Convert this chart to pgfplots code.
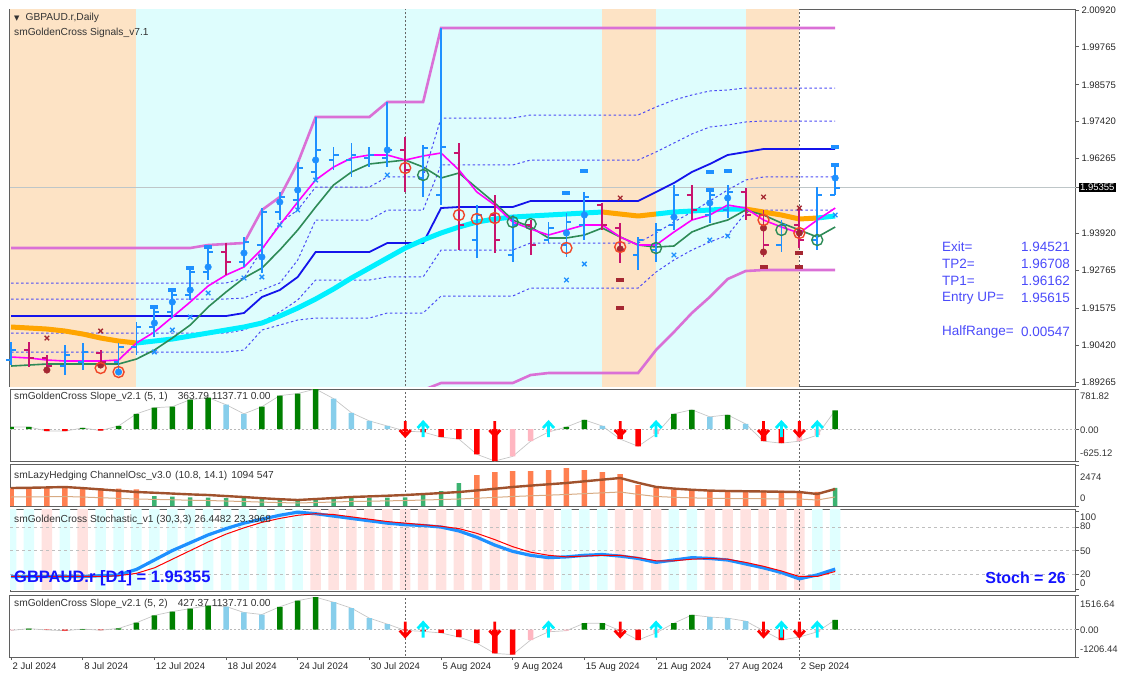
\documentclass[border=0pt]{standalone}
\usepackage{pgfplots}
\pgfplotsset{compat=1.18}
\usepackage{pgfplotstable}
\usepackage{fontspec}
\setmainfont{Liberation Sans}
\newfontfamily\dejavu{DejaVu Sans}

\definecolor{upc}{RGB}{30,144,255}
\definecolor{dnc}{RGB}{200,20,110}
\definecolor{peach}{RGB}{253,227,197}
\definecolor{lcyan}{RGB}{222,253,253}
\definecolor{magc}{RGB}{255,0,255}
\definecolor{grnc}{RGB}{46,139,87}
\definecolor{aquac}{RGB}{0,240,255}
\definecolor{orc}{RGB}{255,165,0}
\definecolor{chanc}{RGB}{20,20,235}
\definecolor{dotc}{RGB}{75,75,245}
\definecolor{orchidc}{RGB}{218,112,214}
\definecolor{circr}{RGB}{240,70,40}
\definecolor{darkr}{RGB}{165,40,50}
\definecolor{txtb}{RGB}{75,75,250}
\definecolor{sgreen}{RGB}{0,128,0}
\definecolor{sblue}{RGB}{135,206,235}
\definecolor{spink}{RGB}{255,182,193}
\definecolor{sred}{RGB}{255,0,0}
\definecolor{coralc}{RGB}{255,127,80}
\definecolor{mgreen}{RGB}{60,179,113}
\definecolor{siennac}{RGB}{160,82,45}
\definecolor{tanc}{RGB}{215,170,130}
\definecolor{stpink}{RGB}{255,226,224}
\definecolor{stcyan}{RGB}{224,255,255}
\definecolor{borderc}{RGB}{95,95,95}
\definecolor{bigblue}{RGB}{20,20,255}

\newcommand\tickf{\fontsize{9.5}{10}\selectfont}
\newcommand\titf{\fontsize{10.2}{11}\selectfont}

\pgfdeclareplotmark{otick}{\pgfpathmoveto{\pgfqpoint{-5pt}{0pt}}\pgfpathlineto{\pgfqpoint{0pt}{0pt}}\pgfusepathqstroke}
\pgfdeclareplotmark{ctick}{\pgfpathmoveto{\pgfqpoint{0pt}{0pt}}\pgfpathlineto{\pgfqpoint{5pt}{0pt}}\pgfusepathqstroke}
\pgfdeclareplotmark{dnarrow}{\pgfpathmoveto{\pgfqpoint{0pt}{8pt}}\pgfpathlineto{\pgfqpoint{0pt}{-7pt}}\pgfpathmoveto{\pgfqpoint{-5.5pt}{-1pt}}\pgfpathlineto{\pgfqpoint{0pt}{-7pt}}\pgfpathlineto{\pgfqpoint{5.5pt}{-1pt}}\pgfusepathqstroke}
\pgfdeclareplotmark{uparrow}{\pgfpathmoveto{\pgfqpoint{0pt}{-8pt}}\pgfpathlineto{\pgfqpoint{0pt}{7pt}}\pgfpathmoveto{\pgfqpoint{-5.5pt}{1pt}}\pgfpathlineto{\pgfqpoint{0pt}{7pt}}\pgfpathlineto{\pgfqpoint{5.5pt}{1pt}}\pgfusepathqstroke}
\pgfdeclareplotmark{dash}{\pgfpathrectangle{\pgfqpoint{-4pt}{-1.6pt}}{\pgfqpoint{8pt}{3.2pt}}\pgfusepathqfill}

\pgfplotstableread{
i mag grn ma mid u2 u1 l1 l2 dhi
0 1.90048 1.89766 1.90988 1.91333 1.92367 1.91865 1.90800 1.90205 1.93463
1 1.90017 1.89797 1.90957 1.91333 1.92367 1.91865 1.90800 1.90205 1.93463
2 1.89954 1.89829 1.90925 1.91333 1.92367 1.91865 1.90800 1.90205 1.93463
3 1.89923 1.89829 1.90863 1.91333 1.92367 1.91865 1.90800 1.90205 1.93463
4 1.89923 1.89829 1.90769 1.91333 1.92367 1.91865 1.90800 1.90205 1.93463
5 1.89923 1.89829 1.90643 1.91333 1.92367 1.91865 1.90800 1.90205 1.93463
6 1.89954 1.89829 1.90549 1.91333 1.92367 1.91865 1.90800 1.90205 1.93463
7 1.90487 1.89985 1.90487 1.91333 1.92367 1.91865 1.90800 1.90205 1.93463
8 1.90831 1.90267 1.90549 1.91333 1.92367 1.91865 1.90800 1.90205 1.93463
9 1.91301 1.90643 1.90612 1.91333 1.92367 1.91865 1.90800 1.90205 1.93463
10 1.91771 1.91051 1.90706 1.91333 1.92367 1.91865 1.90800 1.90205 1.93463
11 1.92273 1.91615 1.90800 1.91333 1.92367 1.91865 1.90800 1.90205 1.93557
12 1.92617 1.92085 1.90894 1.91333 1.92367 1.91865 1.90800 1.90205 1.93588
13 1.92868 1.92523 1.90988 1.91427 1.92523 1.91896 1.90894 1.90267 1.93620
14 1.93432 1.92836 1.91113 1.91928 1.93400 1.92147 1.91145 1.90894 1.94654
15 1.94184 1.93400 1.91333 1.92147 1.94246 1.92367 1.91458 1.91051 1.95061
16 1.94904 1.94027 1.91583 1.92555 1.94654 1.93087 1.91834 1.91207 1.96126
17 1.95594 1.94748 1.91865 1.93338 1.95374 1.94340 1.92461 1.91270 1.97567
18 1.96001 1.95437 1.92179 1.93338 1.95374 1.94340 1.92461 1.91270 1.97567
19 1.96283 1.95844 1.92523 1.93338 1.95374 1.94340 1.92461 1.91270 1.97567
20 1.96377 1.96095 1.92836 1.93338 1.95374 1.94340 1.92461 1.91270 1.97567
21 1.96377 1.96158 1.93150 1.93620 1.95688 1.94654 1.92555 1.91427 1.98037
22 1.96220 1.96220 1.93463 1.93620 1.95688 1.94654 1.92555 1.91427 1.98037
23 1.96346 1.96001 1.93714 1.93620 1.95688 1.94654 1.92555 1.91427 1.98037
24 1.96440 1.95656 1.93933 1.94716 1.97536 1.96064 1.93400 1.91959 2.00356
25 1.95907 1.95813 1.94121 1.94748 1.97536 1.96064 1.93400 1.91959 2.00356
26 1.95218 1.95343 1.94278 1.94748 1.97536 1.96064 1.93400 1.91959 2.00356
27 1.94810 1.94873 1.94372 1.94748 1.97536 1.96064 1.93400 1.91959 2.00356
28 1.94278 1.94340 1.94434 1.94748 1.97536 1.96064 1.93400 1.91959 2.00356
29 1.94058 1.94121 1.94466 1.94936 1.97630 1.96220 1.93620 1.92210 2.00356
30 1.93870 1.93776 1.94497 1.94936 1.97630 1.96220 1.93620 1.92210 2.00356
31 1.94027 1.93776 1.94528 1.94936 1.97630 1.96220 1.93620 1.92210 2.00356
32 1.94184 1.93870 1.94560 1.94936 1.97630 1.96220 1.93620 1.92210 2.00356
33 1.94184 1.94090 1.94591 1.94936 1.97630 1.96220 1.93620 1.92210 2.00356
34 1.93808 1.93808 1.94528 1.94936 1.97630 1.96220 1.93620 1.92210 2.00356
35 1.93557 1.93557 1.94466 1.94936 1.97630 1.96220 1.93620 1.92210 2.00356
36 1.93557 1.93494 1.94528 1.95218 1.97881 1.96471 1.93933 1.92711 2.00356
37 1.93964 1.93526 1.94591 1.95500 1.98100 1.96753 1.94278 1.93087 2.00356
38 1.94340 1.93964 1.94622 1.95844 1.98257 1.97035 1.94591 1.93400 2.00356
39 1.94497 1.94184 1.94654 1.96095 1.98382 1.97254 1.94936 1.93651 2.00356
40 1.94810 1.94340 1.94685 1.96377 1.98413 1.97317 1.95280 1.93870 2.00356
41 1.94716 1.94654 1.94685 1.96471 1.98476 1.97411 1.95594 1.94560 2.00356
42 1.94340 1.94497 1.94591 1.96565 1.98476 1.97442 1.95688 1.94654 2.00356
43 1.94121 1.94246 1.94497 1.96565 1.98476 1.97442 1.95688 1.94654 2.00356
44 1.93933 1.94027 1.94372 1.96565 1.98476 1.97442 1.95688 1.94654 2.00356
45 1.94340 1.93808 1.94403 1.96565 1.98476 1.97442 1.95688 1.94654 2.00356
46 1.94716 1.94121 1.94466 1.96565 1.98476 1.97442 1.95688 1.94654 2.00356
}\maintab

\pgfplotstableread{
i o h l c
0 1.89954 1.90518 1.89797 1.90267
3 1.89766 1.90424 1.89484 1.90111
4 1.89891 1.90487 1.89641 1.90205
6 1.89891 1.90487 1.89578 1.90361
7 1.90361 1.91145 1.90111 1.90988
8 1.90988 1.91615 1.90675 1.91458
9 1.91458 1.92210 1.91270 1.91991
10 1.91991 1.92868 1.91834 1.92711
11 1.92711 1.93494 1.92461 1.93338
13 1.93024 1.93808 1.92868 1.93651
14 1.93557 1.94716 1.92680 1.94591
15 1.94591 1.95218 1.94340 1.95061
16 1.94967 1.96158 1.94654 1.95970
17 1.95844 1.97567 1.95594 1.96534
18 1.96220 1.96628 1.95907 1.96377
19 1.96220 1.96753 1.95688 1.96377
20 1.96283 1.96628 1.96001 1.96377
21 1.96283 1.98037 1.96001 1.96534
23 1.95656 1.96690 1.95061 1.96596
24 1.95124 2.00356 1.94810 1.96628
26 1.93714 1.94810 1.93150 1.94497
28 1.93244 1.94497 1.93024 1.94184
30 1.93714 1.94278 1.93620 1.94090
31 1.93557 1.94560 1.93181 1.94278
32 1.94184 1.95218 1.93714 1.95061
35 1.93244 1.93808 1.92774 1.93714
36 1.93400 1.94246 1.93024 1.94027
37 1.94184 1.95437 1.94027 1.95124
39 1.94497 1.95280 1.94246 1.95124
40 1.94654 1.95437 1.94403 1.95218
43 1.93557 1.94340 1.93338 1.94184
45 1.93714 1.95374 1.93400 1.95124
46 1.95124 1.96126 1.95124 1.95355
}\upbars

\pgfplotstableread{
i o h l c
1 1.90267 1.90518 1.89735 1.90017
2 1.90017 1.90111 1.89547 1.89766
5 1.90174 1.90267 1.89703 1.89891
12 1.93338 1.93620 1.92617 1.93024
22 1.96534 1.96941 1.95218 1.95907
25 1.96440 1.96753 1.93400 1.94184
27 1.94497 1.95124 1.93306 1.93714
29 1.94184 1.94340 1.93244 1.93557
33 1.94810 1.94873 1.94027 1.94184
34 1.94090 1.94246 1.92993 1.93400
38 1.95124 1.95437 1.94340 1.94654
41 1.95218 1.95343 1.94340 1.94497
42 1.94497 1.94654 1.93181 1.93557
44 1.94184 1.94748 1.93463 1.93714
}\dnbars

\pgfplotstableread{
i k d
0 17 17
1 17 17
2 17 17
3 17 17
4 17 17
5 18 17
6 19 18
7 26 21
8 38 28
9 50 39
10 60 50
11 70 61
12 78 71
13 85 79
14 90 86
15 95 91
16 99 95
17 97 97
18 94 96
19 91 93
20 88 90
21 85 87
22 83 85
23 82 83
24 80 81
25 75 78
26 67 72
27 57 64
28 49 55
29 44 48
30 41 44
31 42 42
32 44 43
33 45 44
34 43 44
35 40 41
36 35 37
37 38 37
38 41 39
39 40 40
40 38 39
41 33 35
42 28 30
43 22 24
44 14 17
45 19 17
46 26.4482 23.3968
}\stochtab

\pgfplotstableread{
i thick thin
0 1085 543
1 1100 550
2 1120 560
3 1146 573
4 1080 540
5 1000 500
6 920 460
7 844 422
8 800 400
9 750 375
10 700 350
11 663 332
12 600 300
13 540 270
14 470 235
15 410 205
16 362 181
17 420 210
18 480 240
19 543 272
20 580 290
21 620 310
22 663 332
23 720 360
24 780 390
25 844 422
26 940 470
27 1040 520
28 1146 573
29 1230 615
30 1310 655
31 1387 694
32 1490 745
33 1590 795
34 1688 844
35 1400 700
36 1150 575
37 1050 525
38 980 490
39 930 465
40 905 453
41 890 445
42 875 438
43 860 430
44 844 422
45 724 362
46 1025 547
}\chantab

\pgfplotsset{
  pane/.style={scale only axis, width=1066pt, xmin=-0.06, xmax=59.44, anchor=north west,
    axis line style={draw=borderc, line width=1pt}, xtick=\empty, ytick=\empty, clip=true,
    ytick pos=right, tick align=outside, major tick length=3pt,
    tick style={draw=borderc, line width=0.8pt}, yticklabel=\empty},
  sep/.style={draw=black!60, line width=1pt, dash pattern=on 2pt off 2pt},
  dots/.style={draw=dotc, line width=1pt, dash pattern=on 2.5pt off 2.5pt},
  sbar/.style={ybar, bar shift=0pt, bar width=5.5pt, draw=none, fill=#1},
  hl/.style={draw=none, mark=none, error bars/.cd, y dir=both, y explicit, error mark=none,
    error bar style={draw=#1, line width=1.8pt}},
}

\begin{document}
\begin{tikzpicture}[x=1pt,y=1pt]
\useasboundingbox (0,0) rectangle (1121,-672);

% ================= MAIN PANE =================
\begin{axis}[pane, at={(10pt,-9pt)}, height=377pt, ymin=1.89140, ymax=2.00951,
  ytick={1.89265,1.90420,1.91575,1.92765,1.93920,1.96265,1.97420,1.98575,1.99765,2.00920},
  yticklabels={1.89265,1.90420,1.91575,1.92765,1.93920,1.96265,1.97420,1.98575,1.99765,2.00920},
  yticklabel pos=right,
  yticklabel style={font=\tickf, text=black!85, xshift=-1pt},
  extra y ticks={1.95355}, extra y tick labels={1.95355},
  extra y tick style={yticklabel style={fill=black, text=white, inner sep=1pt, xshift=1pt}},
  ]
% background zones
\addplot[draw=none, fill=peach] coordinates {(-0.06,1.88) (-0.06,2.02) (7,2.02) (7,1.88)};
\addplot[draw=none, fill=lcyan] coordinates {(7,1.88) (7,2.02) (33,2.02) (33,1.88)};
\addplot[draw=none, fill=peach] coordinates {(33,1.88) (33,2.02) (36,2.02) (36,1.88)};
\addplot[draw=none, fill=lcyan] coordinates {(36,1.88) (36,2.02) (41,2.02) (41,1.88)};
\addplot[draw=none, fill=peach] coordinates {(41,1.88) (41,2.02) (44,2.02) (44,1.88)};
% current price line
\addplot[draw={rgb,255:red,190;green,198;blue,200}, line width=1.5pt] coordinates {(-0.06,1.95355) (59.44,1.95355)};
% separators
\addplot[sep] coordinates {(22,1.88) (22,2.02)};
\addplot[sep] coordinates {(44,1.88) (44,2.02)};
% channel bands
\addplot[dots] table[x=i,y=u2] {\maintab};
\addplot[dots] table[x=i,y=u1] {\maintab};
\addplot[dots] table[x=i,y=l1] {\maintab};
\addplot[dots] table[x=i,y=l2] {\maintab};
\addplot[chanc, line width=1.8pt] table[x=i,y=mid] {\maintab};
% donchian
\addplot[orchidc, line width=2.6pt] table[x=i,y=dhi] {\maintab};
\addplot[orchidc, line width=2.6pt] coordinates {(23,1.89014) (24,1.89233) (28,1.89233) (29,1.89484) (30,1.89547) (35,1.89547) (36,1.90267) (37,1.90831) (38,1.91427) (39,1.91928) (40,1.92492) (41,1.92742) (42,1.92774) (46,1.92774)};
% long MA
\addplot[aquac, line width=5pt, line join=round, restrict x to domain=7:33] table[x=i,y=ma] {\maintab};
\addplot[aquac, line width=5pt, line join=round, restrict x to domain=36:41] table[x=i,y=ma] {\maintab};
\addplot[aquac, line width=5pt, line join=round, restrict x to domain=45:46] table[x=i,y=ma] {\maintab};
\addplot[orc, line width=5pt, line join=round, restrict x to domain=0:7] table[x=i,y=ma] {\maintab};
\addplot[orc, line width=5pt, line join=round, restrict x to domain=33:36] table[x=i,y=ma] {\maintab};
\addplot[orc, line width=5pt, line join=round, restrict x to domain=41:45] table[x=i,y=ma] {\maintab};
% MAs
\addplot[grnc, line width=1.6pt] table[x=i,y=grn] {\maintab};
\addplot[magc, line width=1.6pt] table[x=i,y=mag] {\maintab};
% OHLC bars
\addplot[hl=upc] table[x=i, y=c, y error plus expr=\thisrow{h}-\thisrow{c}, y error minus expr=\thisrow{c}-\thisrow{l}] {\upbars};
\addplot[only marks, mark=otick, color=upc, mark options={color=upc, line width=1.8pt}] table[x=i,y=o] {\upbars};
\addplot[only marks, mark=ctick, color=upc, mark options={color=upc, line width=1.8pt}] table[x=i,y=c] {\upbars};
\addplot[hl=dnc] table[x=i, y=c, y error plus expr=\thisrow{h}-\thisrow{c}, y error minus expr=\thisrow{c}-\thisrow{l}] {\dnbars};
\addplot[only marks, mark=otick, color=dnc, mark options={color=dnc, line width=1.8pt}] table[x=i,y=o] {\dnbars};
\addplot[only marks, mark=ctick, color=dnc, mark options={color=dnc, line width=1.8pt}] table[x=i,y=c] {\dnbars};
% markers
\addplot[only marks, mark=*, mark size=3.3pt, color=upc, mark options={draw=upc, fill=upc}] coordinates {(6,1.89578) (8,1.91113) (9,1.91771) (10,1.92147) (11,1.92868) (13,1.93306) (14,1.93181) (15,1.94904) (16,1.95280) (17,1.96220) (21,1.96534) (31,1.93933) (32,1.94497) (37,1.94434) (39,1.94873) (40,1.95030) (46,1.95656)};
\addplot[only marks, mark=*, mark size=3.3pt, color=darkr, mark options={draw=darkr, fill=darkr}] coordinates {(2,1.89641) (5,1.89797) (34,1.93432) (42,1.94090) (42,1.93338) (44,1.93933)};
\addplot[only marks, mark=x, mark size=3.2pt, color=upc, mark options={line width=1.3pt}] coordinates {(8,1.90205) (9,1.90894) (10,1.91301) (11,1.92053) (13,1.92523) (14,1.92555) (15,1.94184) (16,1.94654) (17,1.95594) (21,1.95750) (31,1.92461) (32,1.92962) (37,1.93244) (39,1.93714) (40,1.93839) (46,1.94497)};
\addplot[only marks, mark=x, mark size=3.2pt, color=darkr, mark options={line width=1.3pt}] coordinates {(2,1.90643) (5,1.90863) (34,1.95030) (42,1.95061) (44,1.94716)};
\addplot[only marks, mark=dash, color=upc, mark options={fill=upc, draw=none}] coordinates {(31,1.95186) (32,1.95876) (39,1.95844) (40,1.95876) (39,1.95280) (46,1.96064) (46,1.96628) (8,1.91615) (9,1.92147) (10,1.92836) (11,1.93494)};
\addplot[only marks, mark=dash, color=darkr, mark options={fill=darkr, draw=none}] coordinates {(34,1.92461) (34,1.91583) (42,1.92868) (44,1.92868) (44,1.93306)};
\addplot[only marks, mark=o, mark size=5.5pt, color=circr, mark options={line width=1.4pt}] coordinates {(5,1.89703) (6,1.89578) (22,1.95970) (25,1.94497) (26,1.94372) (27,1.94403) (31,1.93463) (34,1.93494) (42,1.94340) (44,1.93933)};
\addplot[only marks, mark=o, mark size=5.5pt, color=grnc, mark options={line width=1.4pt}] coordinates {(23,1.95750) (28,1.94278) (29,1.94215) (36,1.93463) (43,1.94027) (45,1.93714)};
\end{axis}

% ================= SLOPE 1 =================
\begin{axis}[pane, at={(10pt,-389pt)}, height=72pt, ymin=-625.12, ymax=781.82,
  ytick={-625.12,0,781.82}]
\addplot[gray!55, line width=0.9pt, dash pattern=on 1.5pt off 2.5pt] coordinates {(-0.06,0) (59.44,0)};
\addplot[sep] coordinates {(22,-800) (22,900)};
\addplot[sep] coordinates {(44,-800) (44,900)};
\addplot[gray!45, line width=0.7pt] coordinates {(0,40)(1,40)(2,-40)(3,-40)(4,20)(5,-30)(6,60)(7,297)(8,416)(9,436)(10,574)(11,614)(12,475)(13,297)(14,436)(15,653)(16,693)(17,781.82)(18,594)(19,317)(20,158)(21,59)(22,-40)(23,-59)(24,-158)(25,-198)(26,-495)(27,-625.12)(28,-535)(29,-238)(30,-59)(31,40)(32,178)(33,59)(34,-198)(35,-337)(36,-99)(37,297)(38,376)(39,238)(40,277)(41,99)(42,-238)(43,-277)(44,-238)(45,-119)(46,363.79)};
\addplot[sbar=sgreen] coordinates {(0,40)(1,40)(4,20)(6,60)(7,297)(8,416)(9,436)(10,574)(11,614)(14,436)(15,653)(16,693)(17,781.82)(31,40)(32,178)(37,297)(38,376)(40,277)(46,363.79)};
\addplot[sbar=sblue] coordinates {(12,475)(13,297)(18,594)(19,317)(20,158)(21,59)(33,59)(39,238)(41,99)};
\addplot[sbar=sred] coordinates {(2,-40)(3,-40)(5,-30)(22,-40)(23,-59)(24,-158)(25,-198)(26,-495)(27,-625.12)(34,-198)(35,-337)(42,-238)(43,-277)};
\addplot[sbar=spink] coordinates {(28,-535)(29,-238)(30,-59)(36,-99)(44,-238)(45,-119)};
\addplot[only marks, mark=dnarrow, color=sred, mark options={line width=2.8pt}] coordinates {(22,0)(27,0)(34,0)(42,0)(44,0)};
\addplot[only marks, mark=uparrow, color=aquac, mark options={line width=2.8pt}] coordinates {(23,0)(30,0)(36,0)(43,0)(45,0)};
\end{axis}

% ================= CHANNEL OSC =================
\begin{axis}[pane, at={(10pt,-464pt)}, height=42pt, ymin=0, ymax=2533, ytick={0,2474}]
\addplot[sep] coordinates {(22,-100) (22,3000)};
\addplot[sep] coordinates {(44,-100) (44,3000)};
\addplot[sbar=coralc] coordinates {(0,1080)(1,1100)(2,1090)(3,1100)(4,1090)(5,1080)(6,1050)(7,1000)(26,1870)(27,2050)(28,2110)(29,2110)(30,2170)(31,2290)(32,2170)(33,2050)(34,1930)(35,1266)(36,1085)(37,990)(38,980)(39,960)(40,950)(41,960)(42,940)(43,930)(44,900)(45,850)};
\addplot[sbar=mgreen, bar width=4.5pt] coordinates {(8,600)(9,560)(10,520)(11,500)(12,480)(13,470)(14,450)(15,430)(16,420)(17,430)(18,450)(19,470)(20,480)(21,500)(22,520)(23,780)(24,905)(25,1387)(46,1094)};
\addplot[tanc, line width=1pt] table[x=i,y=thin] {\chantab};
\addplot[siennac, line width=2.4pt] table[x=i,y=thick] {\chantab};
\end{axis}

% ================= STOCHASTIC =================
\begin{axis}[pane, at={(10pt,-509pt)}, height=82pt, ymin=-1.5, ymax=103, ytick={0,20,50,80,100}]
\addplot[ybar, bar shift=0pt, bar width=10.5pt, draw=none, fill=stcyan] coordinates {(0,103)(1,103)(3,103)(5,103)(6,103)(7,103)(8,103)(9,103)(10,103)(11,103)(12,103)(13,103)(14,103)(15,103)(16,103)(31,103)(32,103)(33,103)(37,103)(38,103)(45,103)(46,103)};
\addplot[ybar, bar shift=0pt, bar width=10.5pt, draw=none, fill=stpink] coordinates {(2,103)(4,103)(17,103)(18,103)(19,103)(20,103)(21,103)(22,103)(23,103)(24,103)(25,103)(26,103)(27,103)(28,103)(29,103)(30,103)(34,103)(35,103)(36,103)(39,103)(40,103)(41,103)(42,103)(43,103)(44,103)};
\addplot[gray!50, line width=0.8pt, dash pattern=on 3pt off 3pt] coordinates {(-0.06,20) (59.44,20)};
\addplot[gray!50, line width=0.8pt, dash pattern=on 3pt off 3pt] coordinates {(-0.06,50) (59.44,50)};
\addplot[gray!50, line width=0.8pt, dash pattern=on 3pt off 3pt] coordinates {(-0.06,80) (59.44,80)};
\addplot[sep] coordinates {(22,-5) (22,110)};
\addplot[sep] coordinates {(44,-5) (44,110)};
\addplot[upc, line width=3.2pt, line join=round] table[x=i,y=k] {\stochtab};
\addplot[red, line width=1pt] table[x=i,y=d] {\stochtab};
\end{axis}

% ================= SLOPE 2 =================
\begin{axis}[pane, at={(10pt,-595pt)}, height=62pt, ymin=-1206.44, ymax=1516.64,
  ytick={-1206.44,0,1516.64},
  xtick={0,4,8,12,16,20,24,28,32,36,40,44},
  xticklabels={2 Jul 2024,8 Jul 2024,12 Jul 2024,18 Jul 2024,24 Jul 2024,30 Jul 2024,5 Aug 2024,9 Aug 2024,15 Aug 2024,21 Aug 2024,27 Aug 2024,2 Sep 2024},
  xtick pos=bottom,
  xticklabel style={font=\tickf, text=black!85, anchor=north west, xshift=-2pt, yshift=1pt}]
\addplot[gray!55, line width=0.9pt, dash pattern=on 1.5pt off 2.5pt] coordinates {(-0.06,0) (59.44,0)};
\addplot[sep] coordinates {(22,-1500) (22,1800)};
\addplot[sep] coordinates {(44,-1500) (44,1800)};
\addplot[gray!45, line width=0.7pt] coordinates {(0,-40)(1,40)(2,-20)(3,-50)(4,20)(5,-30)(6,50)(7,300)(8,620)(9,790)(10,920)(11,1054)(12,1010)(13,750)(14,660)(15,1000)(16,1270)(17,1420)(18,1200)(19,940)(20,500)(21,240)(22,-40)(23,-80)(24,-150)(25,-330)(26,-600)(27,-1050)(28,-1100)(29,-460)(30,-100)(31,-50)(32,280)(33,280)(34,-50)(35,-460)(36,-150)(37,280)(38,640)(39,550)(40,500)(41,370)(42,-50)(43,-460)(44,-330)(45,-100)(46,427.37)};
\addplot[sbar=sgreen] coordinates {(1,40)(4,20)(6,50)(7,300)(8,620)(9,790)(10,920)(11,1054)(15,1000)(16,1270)(17,1420)(32,280)(33,280)(37,280)(38,640)(46,427.37)};
\addplot[sbar=sblue] coordinates {(12,1010)(13,750)(14,660)(18,1200)(19,940)(20,500)(21,240)(39,550)(40,500)(41,370)};
\addplot[sbar=sred] coordinates {(2,-20)(3,-50)(5,-30)(22,-40)(23,-80)(24,-150)(25,-330)(26,-600)(27,-1050)(28,-1100)(34,-50)(35,-460)(42,-50)(43,-460)};
\addplot[sbar=spink] coordinates {(0,-40)(29,-460)(30,-100)(31,-50)(36,-150)(44,-330)(45,-100)};
\addplot[only marks, mark=dnarrow, color=sred, mark options={line width=2.8pt}] coordinates {(22,0)(27,0)(34,0)(42,0)(44,0)};
\addplot[only marks, mark=uparrow, color=aquac, mark options={line width=2.8pt}] coordinates {(23,0)(30,0)(36,0)(43,0)(45,0)};
\end{axis}

% ================= TEXTS =================
\begin{scope}[every node/.style={inner sep=0pt, text=black!80}]
\node[anchor=west, font=\titf] at (14,-18) {{\dejavu\fontsize{7}{7}\selectfont ▼}\hspace{6pt}GBPAUD.r,Daily};
\node[anchor=west, font=\titf] at (14,-33) {smGoldenCross Signals\_v7.1};
\node[anchor=west, font=\titf] at (14,-397) {smGoldenCross Slope\_v2.1 (5, 1)\hspace{10pt}363.79 1137.71 0.00};
\node[anchor=west, font=\titf] at (14,-476) {smLazyHedging ChannelOsc\_v3.0\hspace{4pt}(10.8, 14.1)\hspace{4pt}1094 547};
\node[anchor=west, font=\titf] at (14,-520) {smGoldenCross Stochastic\_v1 (30,3,3) 26.4482 23.3968};
\node[anchor=west, font=\titf] at (14,-604) {smGoldenCross Slope\_v2.1 (5, 2)\hspace{10pt}427.37 1137.71 0.00};
% right scale labels of sub panes
\node[anchor=west, font=\tickf] at (1080,-396) {781.82};
\node[anchor=west, font=\tickf] at (1080,-430) {0.00};
\node[anchor=west, font=\tickf] at (1080,-453) {-625.12};
\node[anchor=west, font=\tickf] at (1080,-477) {2474};
\node[anchor=west, font=\tickf] at (1080,-498) {0};
\node[anchor=west, font=\tickf] at (1080,-517) {100};
\node[anchor=west, font=\tickf] at (1080,-526) {80};
\node[anchor=west, font=\tickf] at (1080,-551) {50};
\node[anchor=west, font=\tickf] at (1080,-574) {20};
\node[anchor=west, font=\tickf] at (1080,-583) {0};
\node[anchor=west, font=\tickf] at (1080,-604) {1516.64};
\node[anchor=west, font=\tickf] at (1080,-630) {0.00};
\node[anchor=west, font=\tickf] at (1080,-649) {-1206.44};
\end{scope}
\begin{scope}[every node/.style={inner sep=0pt, text=txtb, font=\fontsize{13.5}{14}\selectfont}]
\node[anchor=west] at (942,-247) {Exit=};
\node[anchor=west] at (942,-264) {TP2=};
\node[anchor=west] at (942,-281) {TP1=};
\node[anchor=west] at (942,-298) {Entry UP=};
\node[anchor=west] at (942,-332) {HalfRange=};
\node[anchor=east] at (1070,-247) {1.94521};
\node[anchor=east] at (1070,-264) {1.96708};
\node[anchor=east] at (1070,-281) {1.96162};
\node[anchor=east] at (1070,-298) {1.95615};
\node[anchor=east] at (1070,-332) {0.00547};
\end{scope}
\node[anchor=west, inner sep=0pt, text=bigblue, font=\fontsize{16.5}{17}\selectfont\bfseries] at (14,-578) {GBPAUD.r [D1] = 1.95355};
\node[anchor=east, inner sep=0pt, text=bigblue, font=\fontsize{16}{17}\selectfont\bfseries] at (1066,-578) {Stoch = 26};
\end{tikzpicture}
\end{document}
